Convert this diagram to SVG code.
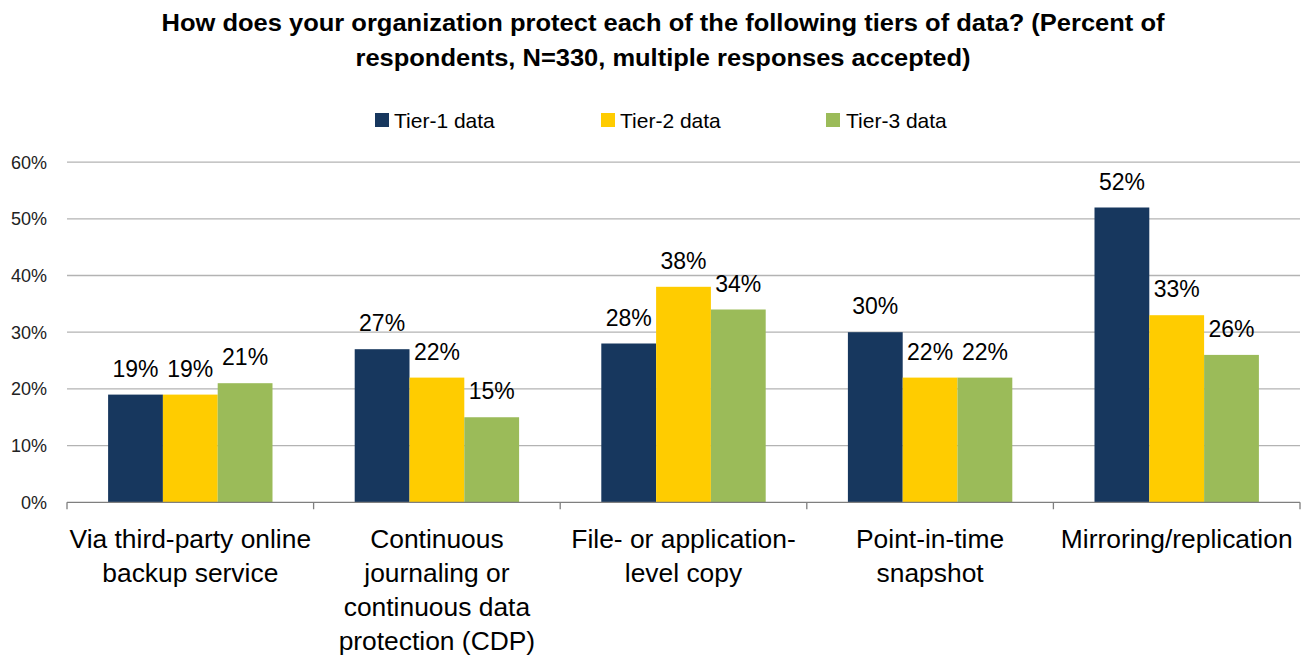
<svg xmlns="http://www.w3.org/2000/svg" width="1307" height="658" viewBox="0 0 1307 658">
<style>
text{font-family:"Liberation Sans",Arial,sans-serif;fill:#000}
.title{font-weight:bold;font-size:23.5px;text-anchor:middle}
.leg{font-size:21px}
.ytick{font-size:18px;text-anchor:end;fill:#222}
.cat{font-size:26.4px;text-anchor:middle}
.dl{font-size:23px;text-anchor:middle}
.grid{stroke:#b3b3b3;stroke-width:1.3}
.axis{stroke:#7f7f7f;stroke-width:1.3;fill:none}
.t1{fill:#17375E}
.t2{fill:#FFCC00}
.t3{fill:#9BBB59}
</style>
<rect width="1307" height="658" fill="#fff"/>
<g id="title">
<text class="title" x="663" y="31" textLength="1003" lengthAdjust="spacingAndGlyphs">How does your organization protect each of the following tiers of data? (Percent of</text>
<text class="title" x="663" y="66" textLength="615" lengthAdjust="spacingAndGlyphs">respondents, N=330, multiple responses accepted)</text>
</g>
<g id="legend">
<rect class="t1" x="375" y="113" width="14" height="14"/>
<text class="leg" x="394" y="128">Tier-1 data</text>
<rect class="t2" x="601" y="113" width="14" height="14"/>
<text class="leg" x="620" y="128">Tier-2 data</text>
<rect class="t3" x="826" y="113" width="14" height="14"/>
<text class="leg" x="846" y="128">Tier-3 data</text>
</g>
<g id="gridlines">
<line class="grid" x1="67" y1="162.1" x2="1300" y2="162.1"/>
<line class="grid" x1="67" y1="218.8" x2="1300" y2="218.8"/>
<line class="grid" x1="67" y1="275.5" x2="1300" y2="275.5"/>
<line class="grid" x1="67" y1="332.2" x2="1300" y2="332.2"/>
<line class="grid" x1="67" y1="388.9" x2="1300" y2="388.9"/>
<line class="grid" x1="67" y1="445.6" x2="1300" y2="445.6"/>
</g>
<g id="y-axis-labels">
<text class="ytick" x="47" y="168.5">60%</text>
<text class="ytick" x="47" y="225.2">50%</text>
<text class="ytick" x="47" y="281.9">40%</text>
<text class="ytick" x="47" y="338.6">30%</text>
<text class="ytick" x="47" y="395.3">20%</text>
<text class="ytick" x="47" y="452">10%</text>
<text class="ytick" x="47" y="508.7">0%</text>
</g>
<g id="bars">
<g id="cat1-bars">
<rect class="t1" x="108.1" y="394.6" width="54.8" height="107.7"/>
<rect class="t2" x="162.9" y="394.6" width="54.8" height="107.7"/>
<rect class="t3" x="217.7" y="383.2" width="54.8" height="119.1"/>
</g>
<g id="cat2-bars">
<rect class="t1" x="354.7" y="349.2" width="54.8" height="153.1"/>
<rect class="t2" x="409.5" y="377.6" width="54.8" height="124.7"/>
<rect class="t3" x="464.3" y="417.25" width="54.8" height="85.05"/>
</g>
<g id="cat3-bars">
<rect class="t1" x="601.3" y="343.5" width="54.8" height="158.8"/>
<rect class="t2" x="656.1" y="286.8" width="54.8" height="215.5"/>
<rect class="t3" x="710.9" y="309.5" width="54.8" height="192.8"/>
</g>
<g id="cat4-bars">
<rect class="t1" x="847.9" y="332.2" width="54.8" height="170.1"/>
<rect class="t2" x="902.7" y="377.6" width="54.8" height="124.7"/>
<rect class="t3" x="957.5" y="377.6" width="54.8" height="124.7"/>
</g>
<g id="cat5-bars">
<rect class="t1" x="1094.5" y="207.5" width="54.8" height="294.8"/>
<rect class="t2" x="1149.3" y="315.2" width="54.8" height="187.1"/>
<rect class="t3" x="1204.1" y="354.9" width="54.8" height="147.4"/>
</g>
</g>
<g id="data-labels">
<text class="dl" x="135.5" y="376.6">19%</text>
<text class="dl" x="190.3" y="376.6">19%</text>
<text class="dl" x="245.1" y="365.2">21%</text>
<text class="dl" x="382.1" y="331.2">27%</text>
<text class="dl" x="436.9" y="359.6">22%</text>
<text class="dl" x="491.7" y="399.2">15%</text>
<text class="dl" x="628.7" y="325.5">28%</text>
<text class="dl" x="683.5" y="268.8">38%</text>
<text class="dl" x="738.3" y="291.5">34%</text>
<text class="dl" x="875.3" y="314.2">30%</text>
<text class="dl" x="930.1" y="359.6">22%</text>
<text class="dl" x="984.9" y="359.6">22%</text>
<text class="dl" x="1121.9" y="189.5">52%</text>
<text class="dl" x="1176.7" y="297.2">33%</text>
<text class="dl" x="1231.5" y="336.9">26%</text>
</g>
<g id="x-axis">
<path class="axis" d="M67 502.3H1300M67 502.3v7M313.6 502.3v7M560.2 502.3v7M806.8 502.3v7M1053.4 502.3v7M1300 502.3v7"/>
</g>
<g id="category-labels">
<text class="cat" x="190.3" y="548">Via third-party online</text>
<text class="cat" x="190.3" y="582">backup service</text>
<text class="cat" x="436.9" y="548">Continuous</text>
<text class="cat" x="436.9" y="582">journaling or</text>
<text class="cat" x="436.9" y="616">continuous data</text>
<text class="cat" x="436.9" y="650">protection (CDP)</text>
<text class="cat" x="683.5" y="548">File- or application-</text>
<text class="cat" x="683.5" y="582">level copy</text>
<text class="cat" x="930.1" y="548">Point-in-time</text>
<text class="cat" x="930.1" y="582">snapshot</text>
<text class="cat" x="1176.7" y="548">Mirroring/replication</text>
</g>
</svg>
